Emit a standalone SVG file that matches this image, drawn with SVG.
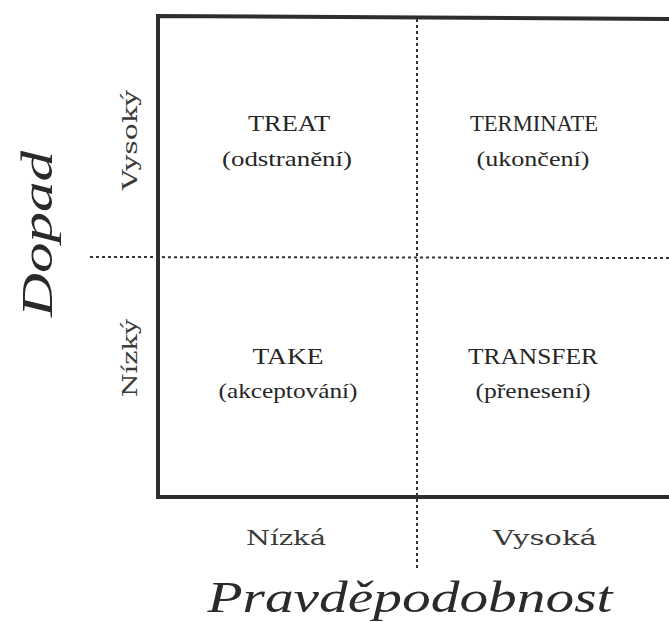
<svg xmlns="http://www.w3.org/2000/svg" width="669" height="622" viewBox="0 0 669 622">
<style>
.t{font-family:"Liberation Serif","Times New Roman",serif;fill:#262626;text-anchor:middle}
.q{font-size:24px}
.s{font-size:21px}
.ax{font-family:"DejaVu Serif",serif;font-size:21px;fill:#3a3a3a}
.big{font-style:italic;font-size:44px;fill:#2a2a2a}
.frame{fill:none;stroke:#2e2e2e;stroke-width:4}
.dash{fill:none;stroke:#333;stroke-width:2;stroke-dasharray:3 3}
</style>
<rect width="669" height="622" fill="#fff"/>
<g id="connectors">
<path class="frame" d="M672 19 L158 16 L158 497 L672 497"/>
<line class="dash" x1="417" y1="19" x2="417" y2="570"/>
<line class="dash" x1="90" y1="257" x2="669" y2="258"/>
</g>
<g id="treat">
<text class="t q" x="289" y="131" textLength="82" lengthAdjust="spacingAndGlyphs">TREAT</text>
<text class="t s" x="287" y="166" textLength="130" lengthAdjust="spacingAndGlyphs">(odstranění)</text>
</g>
<g id="terminate">
<text class="t q" x="534" y="131" textLength="128" lengthAdjust="spacingAndGlyphs">TERMINATE</text>
<text class="t s" x="533" y="166" textLength="113" lengthAdjust="spacingAndGlyphs">(ukončení)</text>
</g>
<g id="take">
<text class="t q" x="288" y="364" textLength="71" lengthAdjust="spacingAndGlyphs">TAKE</text>
<text class="t s" x="288" y="398" textLength="139" lengthAdjust="spacingAndGlyphs">(akceptování)</text>
</g>
<g id="transfer">
<text class="t q" x="533" y="364" textLength="130" lengthAdjust="spacingAndGlyphs">TRANSFER</text>
<text class="t s" x="533" y="398" textLength="115" lengthAdjust="spacingAndGlyphs">(přenesení)</text>
</g>
<g id="axis-impact">
<text class="t big" transform="translate(52,234) rotate(-90)" textLength="166" lengthAdjust="spacingAndGlyphs">Dopad</text>
<text class="t ax" transform="translate(137,140) rotate(-90)" textLength="100" lengthAdjust="spacingAndGlyphs">Vysoký</text>
<text class="t ax" transform="translate(137,358) rotate(-90)" textLength="78" lengthAdjust="spacingAndGlyphs">Nízký</text>
</g>
<g id="axis-probability">
<text class="t ax" x="286" y="545" textLength="80" lengthAdjust="spacingAndGlyphs">Nízká</text>
<text class="t ax" x="545" y="545" textLength="104" lengthAdjust="spacingAndGlyphs">Vysoká</text>
<text class="t big" x="410" y="612" textLength="405" lengthAdjust="spacingAndGlyphs">Pravděpodobnost</text>
</g>
</svg>
